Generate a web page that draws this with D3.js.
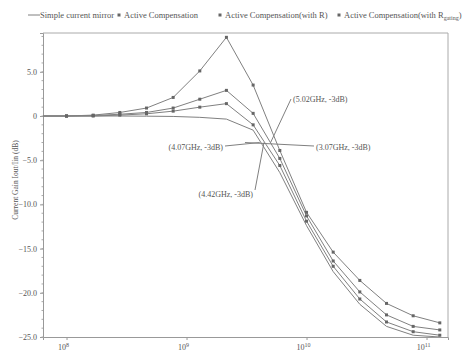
<!DOCTYPE html>
<html>
<head>
<meta charset="utf-8">
<script src="https://cdn.jsdelivr.net/npm/d3@7"></script>
<style>
body{margin:0;background:#fff}
text{font-family:"Liberation Serif","DejaVu Serif",serif;fill:#555}
</style>
</head>
<body>
<div class="chart"></div>
<script>
// frequency points (Hz)
var freqs = [5.99e7, 1e8, 1.668e8, 2.78e8, 4.64e8, 7.74e8, 1.29e9, 2.15e9, 3.59e9, 5.99e9, 1e10, 1.668e10, 2.78e10, 4.64e10, 7.74e10, 1.29e11]

var seriesNames = ["Simple current mirror", "Active Compensation", "Active Compensation(with R)", "Active Compensation(with R"]
var simpleMirror = [0, 0, 0, 0, -0.02, -0.05, -0.15, -0.35, -1.6, -6.4, -12.4, -17.6, -21.3, -23.8, -24.8, -25.0]
var activeComp = [0, 0, 0, 0.1, 0.25, 0.55, 1.0, 1.4, -1.0, -5.6, -11.9, -17.0, -20.7, -23.3, -24.4, -24.8]
var activeCompR = [0, 0, 0.05, 0.2, 0.4, 0.9, 1.9, 2.9, 0.3, -4.8, -11.3, -16.4, -19.9, -22.5, -23.8, -24.2]
var activeCompRg = [0, 0, 0.1, 0.4, 0.9, 2.1, 5.1, 8.9, 3.5, -3.9, -10.9, -15.4, -18.6, -21.2, -22.6, -23.4]

var yTicks = [5, 0, -5, -10, -15, -20, -25]
var xTicks = [1e8, 1e9, 1e10, 1e11]

// -3dB annotations
var annoText = ["(5.02GHz, -3dB)", "(4.07GHz, -3dB)", "(3.07GHz, -3dB)", "(4.42GHz, -3dB)"]
var annoGHz = [5.02, 4.07, 3.07, 4.42]

var width = 462, height = 353
var pLeft = 43, pRight = 448, pTop = 33, pBottom = 337

var svg = d3.select(".chart").append("svg").attr("width", width).attr("height", height)

var x = d3.scaleLog().domain([Math.pow(10, 7.804), Math.pow(10, 11.179)]).range([pLeft, pRight])
var y = d3.scaleLinear().domain([-25, 9.39]).range([pBottom, pTop])

svg.append("clipPath").attr("id", "clip").append("rect")
    .attr("x", pLeft).attr("y", pTop).attr("width", pRight - pLeft).attr("height", pBottom - pTop)

// frame
svg.append("line").attr("x1", pLeft).attr("x2", pRight).attr("y1", pTop).attr("y2", pTop).attr("stroke", "#aaa")
svg.append("line").attr("x1", pRight).attr("x2", pRight).attr("y1", pTop).attr("y2", pBottom).attr("stroke", "#aaa")

// y axis
var yAxis = svg.append("g").attr("transform", "translate(" + pLeft + ",0)")
    .call(d3.axisLeft(y).tickValues(yTicks).tickSize(3)
        .tickFormat(function(d){ return d == 0 ? "0" : d3.format(".1f")(d) }))
yAxis.selectAll("text").attr("font-size", "8px")
yAxis.selectAll("line, path").attr("stroke", "#999")
yAxis.selectAll(".minor").data(d3.range(-25, 10, 1)).enter().append("line")
    .attr("x1", 0).attr("x2", -1.5).attr("y1", function(d){ return y(d) }).attr("y2", function(d){ return y(d) })
    .attr("stroke", "#aaa")

// x axis
var xAxis = svg.append("g").attr("transform", "translate(0," + pBottom + ")")
    .call(d3.axisBottom(x).tickValues(xTicks).tickSize(3).tickFormat(""))
xAxis.selectAll("line, path").attr("stroke", "#999")
var xl = xAxis.selectAll(".tl").data(xTicks).enter().append("text")
    .attr("x", function(d){ return x(d) - 3 }).attr("y", 13).attr("text-anchor", "middle")
    .attr("font-size", "8px")
xl.append("tspan").text("10")
xl.append("tspan").attr("dy", -3).attr("font-size", "6px").text(function(d){ return Math.round(Math.log10(d)) })

// y label
svg.append("text").attr("transform", "translate(18,180) rotate(-90)")
    .attr("text-anchor", "middle").attr("font-size", "7.5px")
    .text("Current Gain Iout/Iin (dB)")

// lines
var line = d3.line().x(function(d, i){ return x(freqs[i]) }).y(function(d){ return y(d) })
var all = [simpleMirror, activeComp, activeCompR, activeCompRg]
var plot = svg.append("g").attr("clip-path", "url(#clip)")
plot.selectAll("path").data(all).enter().append("path")
    .attr("d", line).attr("fill", "none").attr("stroke", "#808080").attr("stroke-width", 1)

// markers (not on simple mirror)
all.slice(1).forEach(function(s){
    plot.selectAll(null).data(s).enter().append("rect")
        .attr("x", function(d, i){ return x(freqs[i]) - 1.5 }).attr("y", function(d){ return y(d) - 1.5 })
        .attr("width", 3).attr("height", 3).attr("fill", "#666")
})

// annotations
var y3 = y(-3)
var annoPos = [[293, 102, "start", 291, 99], [223, 150, "end", 225, 146], [316, 150, "start", 314, 146], [253, 197, "end", 255, 190]]
annoText.forEach(function(t, i){
    var p = annoPos[i]
    svg.append("line").attr("x1", p[3]).attr("y1", p[4]).attr("x2", x(annoGHz[i] * 1e9)).attr("y2", y3)
        .attr("stroke", "#808080")
    svg.append("text").attr("x", p[0]).attr("y", p[1]).attr("text-anchor", p[2])
        .attr("font-size", "8px").text(t)
})

// legend
var legX = [32, 119, 220, 339]
var lg = svg.append("g")
lg.append("line").attr("x1", legX[0] - 4).attr("x2", legX[0] + 8).attr("y1", 15).attr("y2", 15).attr("stroke", "#808080")
seriesNames.forEach(function(n, i){
    if(i > 0){
        lg.append("rect").attr("x", legX[i] - 1.5).attr("y", 13.5).attr("width", 3).attr("height", 3).attr("fill", "#666")
    }
    var t = lg.append("text").attr("x", legX[i] + (i == 0 ? 8 : 5)).attr("y", 18).attr("font-size", "8.5px").text(n)
    if(i == 3){
        t.append("tspan").attr("dy", 2).attr("font-size", "6px").text("gating")
        t.append("tspan").attr("dy", -2).text(")")
    }
})
</script>
</body>
</html>
